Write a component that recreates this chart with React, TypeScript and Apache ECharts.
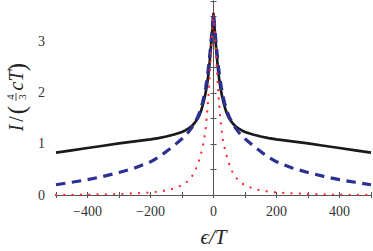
import React, { useEffect, useRef } from "react";
import * as echarts from "echarts";

const eps = [-500, -450, -400, -350, -300, -250, -200, -175, -150, -125, -100, -90, -80, -70, -60, -50, -45, -40, -35, -30, -25, -20, -15, -10, -5, 0,
  5, 10, 15, 20, 25, 30, 35, 40, 45, 50, 60, 70, 80, 90, 100, 125, 150, 175, 200, 250, 300, 350, 400, 450, 500];

const valBlack = [0.83, 0.875, 0.92, 0.965, 1.01, 1.05, 1.09, 1.115, 1.145, 1.185, 1.235, 1.265, 1.3, 1.345, 1.41, 1.5, 1.56, 1.64, 1.74, 1.86, 2.0, 2.18, 2.42, 2.75, 3.15, 3.55,
  3.15, 2.75, 2.42, 2.18, 2.0, 1.86, 1.74, 1.64, 1.56, 1.5, 1.41, 1.345, 1.3, 1.265, 1.235, 1.185, 1.145, 1.115, 1.09, 1.05, 1.01, 0.965, 0.92, 0.875, 0.83];

const valBlue = [0.2, 0.25, 0.3, 0.365, 0.44, 0.53, 0.65, 0.74, 0.85, 0.97, 1.1, 1.16, 1.23, 1.31, 1.41, 1.53, 1.61, 1.7, 1.81, 1.94, 2.1, 2.3, 2.55, 2.86, 3.2, 3.55,
  3.2, 2.86, 2.55, 2.3, 2.1, 1.94, 1.81, 1.7, 1.61, 1.53, 1.41, 1.31, 1.23, 1.16, 1.1, 0.97, 0.85, 0.74, 0.65, 0.53, 0.44, 0.365, 0.3, 0.25, 0.2];

const valRed = [0.0, 0.003, 0.006, 0.012, 0.02, 0.032, 0.05, 0.068, 0.09, 0.13, 0.19, 0.23, 0.28, 0.35, 0.45, 0.6, 0.69, 0.8, 0.93, 1.08, 1.3, 1.62, 2.02, 2.55, 3.1, 3.55,
  3.1, 2.55, 2.02, 1.62, 1.3, 1.08, 0.93, 0.8, 0.69, 0.6, 0.45, 0.35, 0.28, 0.23, 0.19, 0.13, 0.09, 0.068, 0.05, 0.032, 0.02, 0.012, 0.006, 0.003, 0.0];

const xLabels = [-400, -200, 0, 200, 400];
const yLabels = [0, 1, 2, 3];

const FONT = "Liberation Serif";

const zip = (xs: number[], ys: number[]) => xs.map((x, i) => [x, ys[i]]);

export default function App() {
  const ref = useRef<HTMLDivElement>(null);
  useEffect(() => {
    document.body.style.margin = "0";
    const chart = echarts.init(ref.current!, undefined, { renderer: "svg" });
    const axisLine = { show: true, lineStyle: { color: "#555", width: 1 } };
    const tick = { show: true, inside: true, length: 3, lineStyle: { color: "#555", width: 1 } };
    const fmtX = (v: number) => (xLabels.includes(v) ? String(v).replace("-", "\u2212") : "");
    const fmtY = (v: number) => (yLabels.includes(v) ? String(v) : "");
    const T = (text: string, x: number, y: number, size: number, italic = false) => ({
      type: "text",
      x,
      y,
      style: {
        text,
        font: `${italic ? "italic " : ""}${size}px "${FONT}"`,
        fill: "#222",
        align: "center",
        verticalAlign: "middle",
      },
    });
    chart.setOption({
      animation: false,
      grid: { left: 56, right: 2, top: 1, bottom: 56, outerBoundsMode: "none", containLabel: false },
      xAxis: [
        {
          type: "value",
          min: -500,
          max: 500,
          interval: 100,
          axisLine,
          axisTick: tick,
          splitLine: { show: false },
          axisLabel: { formatter: fmtX, fontFamily: FONT, fontSize: 14, color: "#333", margin: 9 },
          name: "\u03F5/T",
          nameLocation: "middle",
          nameGap: 31,
          nameTextStyle: { fontFamily: FONT, fontSize: 21, fontStyle: "italic", color: "#222" },
        },
        {
          type: "value",
          position: "top",
          min: -500,
          max: 500,
          interval: 100,
          axisLine,
          axisTick: tick,
          splitLine: { show: false },
          axisLabel: { show: false },
        },
      ],
      yAxis: [
        {
          type: "value",
          min: 0,
          max: 3.8,
          interval: 0.5,
          axisLine,
          axisTick: tick,
          splitLine: { show: false },
          axisLabel: { formatter: fmtY, fontFamily: FONT, fontSize: 14, color: "#333", margin: 11 },
        },
        {
          type: "value",
          position: "right",
          min: 0,
          max: 3.8,
          interval: 0.5,
          axisLine,
          axisTick: tick,
          splitLine: { show: false },
          axisLabel: { show: false },
        },
      ],
      graphic: [
        {
          type: "group",
          x: 16,
          y: 100,
          rotation: Math.PI / 2,
          children: [
            T("I", -28, 0, 20, true),
            T("/", -19, 0, 20),
            T("(", -10, 0, 25),
            T("4", 3, -6, 11),
            { type: "line", shape: { x1: -1, y1: 0, x2: 7, y2: 0 }, style: { stroke: "#222", lineWidth: 0.8 } },
            T("3", 3, 6, 11),
            T("c", 14, 0, 20, true),
            T("T", 24, 0, 20, true),
            T(")", 33, 0, 25),
          ],
        },
      ],
      series: [
        {
          type: "line",
          data: zip(eps, valBlack),
          showSymbol: false,
          lineStyle: { color: "#1a1a1a", width: 2.7, join: "round" },
          z: 2,
        },
        {
          type: "line",
          data: zip(eps, valBlue),
          showSymbol: false,
          lineStyle: { color: "#2b3190", width: 3.2, type: [9.5, 6.5] },
          z: 3,
        },
        {
          type: "line",
          data: zip(eps, valRed),
          showSymbol: false,
          lineStyle: { color: "#ff2a2a", width: 2.3, type: [0.01, 8.3], cap: "round" },
          z: 4,
        },
      ],
    });
    return () => chart.dispose();
  }, []);
  return <div ref={ref} style={{ width: 373, height: 251 }} />;
}
